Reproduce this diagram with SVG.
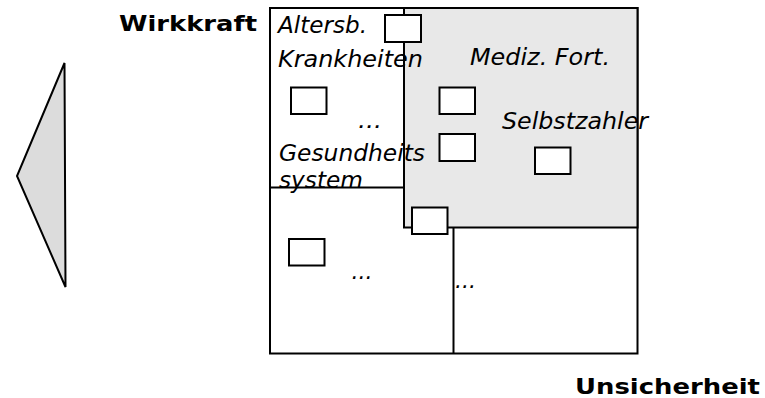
<svg xmlns="http://www.w3.org/2000/svg" width="765" height="398" viewBox="0 0 765 398">
<style>
.ln{fill:none;stroke:#000;stroke-width:2}
.box{fill:#fff;stroke:#000;stroke-width:2}
.it{font-family:"DejaVu Sans","Liberation Sans",sans-serif;font-style:italic;font-size:23px;fill:#000}
.bd{font-family:"DejaVu Sans","Liberation Sans",sans-serif;font-weight:bold;font-size:22px;fill:#000}
</style>
<rect width="765" height="398" fill="#fff"/>
<g id="triangle">
<polygon points="64.5,63 17,176 65.5,287" fill="#dcdcdc" stroke="#000" stroke-width="2" stroke-linejoin="miter"/>
</g>
<g id="frame">
<rect x="270" y="8" width="367.5" height="345.5" class="ln"/>
<rect x="404" y="8" width="233.5" height="219.5" fill="#e8e8e8" stroke="#000" stroke-width="2"/>
<line x1="270" y1="187.5" x2="404" y2="187.5" class="ln"/>
<line x1="453.5" y1="227.5" x2="453.5" y2="353.5" class="ln"/>
</g>
<g id="labels">
<text x="119" y="31" class="bd" textLength="138" lengthAdjust="spacingAndGlyphs">Wirkkraft</text>
<text x="575" y="394" class="bd" textLength="185" lengthAdjust="spacingAndGlyphs">Unsicherheit</text>
<text x="278" y="33" class="it" textLength="89" lengthAdjust="spacingAndGlyphs">Altersb.</text>
<text x="278" y="66.5" class="it" textLength="145" lengthAdjust="spacingAndGlyphs">Krankheiten</text>
<text x="470" y="65" class="it" textLength="140" lengthAdjust="spacingAndGlyphs">Mediz. Fort.</text>
<text x="502" y="129" class="it" textLength="146" lengthAdjust="spacingAndGlyphs">Selbstzahler</text>
<text x="279" y="160.5" class="it" textLength="146" lengthAdjust="spacingAndGlyphs">Gesundheits</text>
<text x="279" y="188" class="it" textLength="84" lengthAdjust="spacingAndGlyphs">system</text>
<text x="358" y="128" class="it" textLength="24" lengthAdjust="spacingAndGlyphs">...</text>
<text x="351.5" y="279" class="it" textLength="21" lengthAdjust="spacingAndGlyphs">...</text>
<text x="455" y="288" class="it" textLength="21" lengthAdjust="spacingAndGlyphs">...</text>
</g>
<g id="n1"><rect x="385" y="15" width="36" height="27" class="box"/></g>
<g id="n2"><rect x="291" y="87.5" width="35.5" height="26.5" class="box"/></g>
<g id="n3"><rect x="439.5" y="87.5" width="35.5" height="26.5" class="box"/></g>
<g id="n4"><rect x="439.5" y="134" width="35.5" height="27" class="box"/></g>
<g id="n5"><rect x="535" y="147.5" width="35.5" height="26.5" class="box"/></g>
<g id="n6"><rect x="412" y="207.5" width="35.5" height="26.5" class="box"/></g>
<g id="n7"><rect x="289" y="239" width="35.5" height="26.5" class="box"/></g>
<g id="connectors"></g>
</svg>
